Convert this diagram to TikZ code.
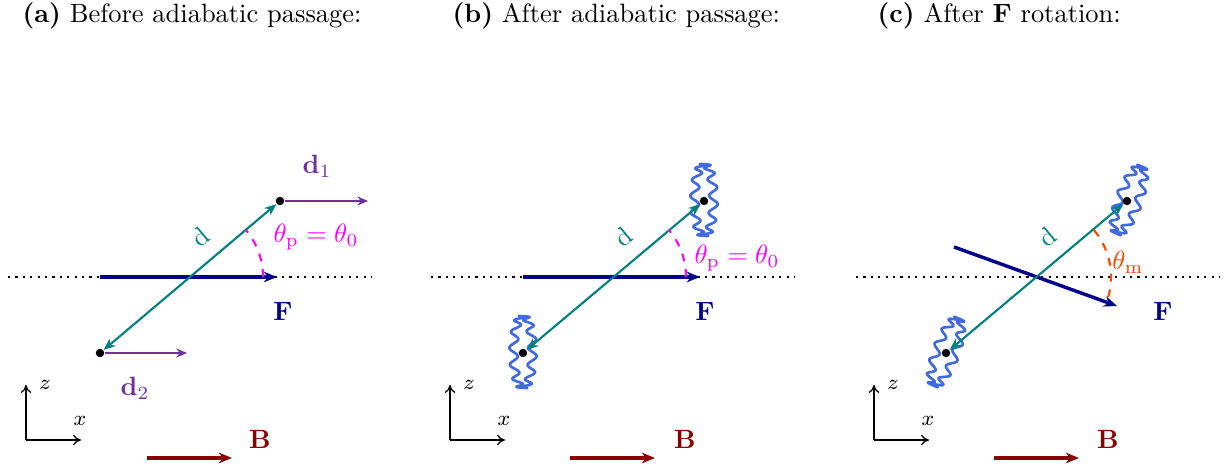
\documentclass[tikz,border=0pt]{standalone}
\usetikzlibrary{arrows.meta}
\definecolor{fnavy}{RGB}{0,0,139}
\definecolor{dteal}{RGB}{0,128,128}
\definecolor{dpurple}{RGB}{112,48,160}
\definecolor{bred}{RGB}{139,0,0}
\definecolor{coilblue}{RGB}{65,105,225}
\definecolor{thmag}{RGB}{255,0,255}
\definecolor{thorange}{RGB}{255,69,0}
\newcommand{\drawcoil}[2]{\draw[coil] plot[domain=0:360,samples=481,variable=\t] ({#1+9.5*cos(\t)+4.2*sin(13*\t)},{#2+36*sin(\t)}) -- cycle;}
\begin{document}
\begin{tikzpicture}[x=0.378pt,y=-0.378pt,
  title/.style={anchor=base west,inner sep=0pt},
  dotline/.style={dotted,line width=0.8pt},
  farrow/.style={fnavy,line width=1.3pt,-{Stealth[length=5pt,width=4pt]}},
  darrow/.style={dteal,line width=0.8pt,{Stealth[length=4.5pt,width=3.6pt]}-{Stealth[length=4.5pt,width=3.6pt]}},
  dparrow/.style={dpurple,line width=0.9pt,-{Stealth[length=4pt,width=3.4pt]}},
  barrow/.style={bred,line width=1.3pt,-{Stealth[length=5pt,width=4pt]}},
  axarrow/.style={line width=0.5pt,-{To[length=3pt,width=4pt]}},
  pt/.style={circle,fill=black,inner sep=0pt,minimum size=3.2pt},
  coil/.style={coilblue,line width=1pt,line join=round},
  flabel/.style={fnavy,font=\bfseries},
  blabel/.style={bred,font=\bfseries},
  dlabel/.style={dteal,rotate=40},
  axlabel/.style={font=\footnotesize}
]
\useasboundingbox (0,0) rectangle (1226,469);

% titles
\node[title] (ta) at (22,23) {\textbf{(a)} Before adiabatic passage:};
\node[title] (tb) at (452,23) {\textbf{(b)} After adiabatic passage:};
\node[title] (tc) at (877,23) {\textbf{(c)} After \textbf{F} rotation:};

% ---------- panel (a)
\coordinate (aL) at (8,277);
\coordinate (aR) at (372,277);
\coordinate (aO) at (190,277);
\coordinate (aF1) at (100,277);
\coordinate (aF2) at (277,277);
\draw[dotline] (aL) -- (aR);
\draw[farrow] (aF1) -- (aF2);
\node[flabel] (aFl) at (283,312) {F};
\node[pt] (a1) at (280,201) {};
\node[pt] (a2) at (100,353) {};
\coordinate (ad1) at (368,201);
\coordinate (ad2) at (187,353);
\draw[dparrow] (a1) -- (ad1);
\draw[dparrow] (a2) -- (ad2);
\draw[darrow] (a2) -- (a1);
\node[dpurple] (ad1l) at (317,166) {$\mathbf{d}_1$};
\node[dpurple] (ad2l) at (135,388) {$\mathbf{d}_2$};
\node[dlabel] (adl) at (200,237) {d};
\draw[thmag,dashed,line width=0.8pt] (aO) ++(0:27.6pt) arc[start angle=0,end angle=40,radius=27.6pt];
\node[thmag] (ath) at (316,237) {$\theta_{\mathrm{p}}=\theta_0$};
\coordinate (aAx) at (26,440);
\coordinate (aAz) at (26,385);
\coordinate (aAxx) at (81,440);
\draw[axarrow] (aAx) -- (aAz);
\draw[axarrow] (aAx) -- (aAxx);
\node[axlabel] (azl) at (45,385) {$z$};
\node[axlabel] (axl) at (80,421) {$x$};
\coordinate (aB1) at (147,458);
\coordinate (aB2) at (232,458);
\draw[barrow] (aB1) -- (aB2);
\node[blabel] (aBl) at (260,439) {B};

% ---------- panel (b)
\coordinate (bL) at (431,277);
\coordinate (bR) at (795,277);
\coordinate (bO) at (613,277);
\coordinate (bF1) at (523,277);
\coordinate (bF2) at (700,277);
\draw[dotline] (bL) -- (bR);
\draw[farrow] (bF1) -- (bF2);
\node[flabel] (bFl) at (705,312) {F};
\drawcoil{704}{200}
\drawcoil{523}{352}
\node[pt] (b1) at (704,201) {};
\node[pt] (b2) at (523,353) {};
\draw[darrow] (b2) -- (b1);
\node[dlabel] (bdl) at (623,237) {d};
\draw[thmag,dashed,line width=0.8pt] (bO) ++(0:27.6pt) arc[start angle=0,end angle=40,radius=27.6pt];
\node[thmag] (bth) at (737,258) {$\theta_{\mathrm{p}}=\theta_0$};
\coordinate (bAx) at (450,440);
\coordinate (bAz) at (450,385);
\coordinate (bAxx) at (505,440);
\draw[axarrow] (bAx) -- (bAz);
\draw[axarrow] (bAx) -- (bAxx);
\node[axlabel] (bzl) at (469,385) {$z$};
\node[axlabel] (bxl) at (504,421) {$x$};
\coordinate (bB1) at (570,458);
\coordinate (bB2) at (655,458);
\draw[barrow] (bB1) -- (bB2);
\node[blabel] (bBl) at (685,439) {B};

% ---------- panel (c)
\coordinate (cL) at (856,277);
\coordinate (cR) at (1220,277);
\coordinate (cO) at (1038,277);
\coordinate (cF1) at (954,247);
\coordinate (cF2) at (1117,306);
\draw[dotline] (cL) -- (cR);
\draw[farrow] (cF1) -- (cF2);
\node[flabel] (cFl) at (1163,312) {F};
\begin{scope}[rotate around={-20:(1129,200)}]
\drawcoil{1129}{200}
\end{scope}
\begin{scope}[rotate around={-20:(946,352)}]
\drawcoil{946}{352}
\end{scope}
\node[pt] (c1) at (1127,201) {};
\node[pt] (c2) at (946,353) {};
\draw[darrow] (c2) -- (c1);
\node[dlabel] (cdl) at (1047,237) {d};
\draw[thorange,dashed,line width=0.8pt] (cO) ++(40:27.6pt) arc[start angle=40,end angle=-20,radius=27.6pt];
\node[thorange] (cth) at (1128,262) {$\theta_{\mathrm{m}}$};
\coordinate (cAx) at (874,440);
\coordinate (cAz) at (874,385);
\coordinate (cAxx) at (929,440);
\draw[axarrow] (cAx) -- (cAz);
\draw[axarrow] (cAx) -- (cAxx);
\node[axlabel] (czl) at (893,385) {$z$};
\node[axlabel] (cxl) at (928,421) {$x$};
\coordinate (cB1) at (994,458);
\coordinate (cB2) at (1079,458);
\draw[barrow] (cB1) -- (cB2);
\node[blabel] (cBl) at (1108,439) {B};
\end{tikzpicture}
\end{document}
